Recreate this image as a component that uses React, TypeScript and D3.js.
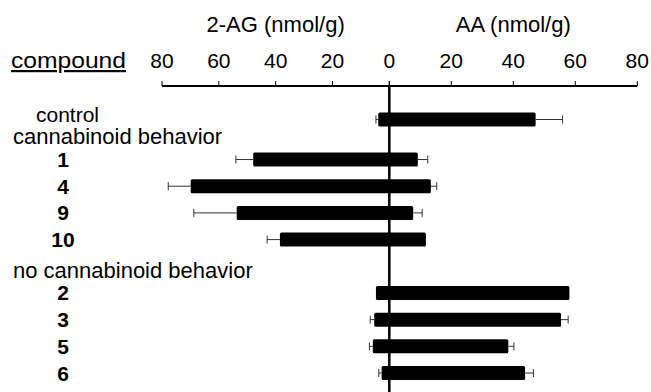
import React from "react";
import * as d3 from "d3";

// rows: control, cannabinoid behavior group, no cannabinoid behavior group
const compounds = ["control", "1", "4", "9", "10", "2", "3", "5", "6"];
const rowPos = [0, 1.5, 2.5, 3.5, 4.5, 6.5, 7.5, 8.5, 9.5];
const ag = [3.9, 47.9, 69.9, 53.7, 38.5, 4.7, 5.3, 5.8, 2.7];
const agErr = [0.8, 6.1, 7.9, 15.1, 4.5, 0, 1.4, 1.2, 1.0];
const aa = [47.2, 9.2, 13.4, 7.7, 11.8, 58.1, 55.4, 38.4, 43.8];
const aaErr = [8.7, 3.2, 1.9, 2.9, 0, 0, 2.3, 1.8, 2.7];
const groupLabels = ["cannabinoid behavior", "no cannabinoid behavior"];
const groupRows = [0.62, 5.67];
const ticks = [0, 20, 40, 60, 80];

const W = 651;
const H = 392;
const FONT = "'Liberation Sans', Arial, Helvetica, sans-serif";

export default function App() {
  const zeroX = 389.3;
  const xL = d3.scaleLinear().domain([0, 80]).range([zeroX, 162]);
  const xR = d3.scaleLinear().domain([0, 80]).range([zeroX, 637.3]);
  const y = d3.scaleLinear().domain([0, 9.5]).range([119.5, 373]);
  const axisY = 86;
  const barH = 14;
  const capH = 8;

  const errBar = (x0: number, x1: number, cy: number, key: string) => (
    <g key={key} stroke="#333" strokeWidth={1}>
      <line x1={x0} x2={x1} y1={cy} y2={cy} />
      <line x1={x1} x2={x1} y1={cy - capH / 2} y2={cy + capH / 2} />
    </g>
  );

  return (
    <svg
      width={W}
      height={H}
      style={{ position: "absolute", left: 0, top: 0, background: "#fff" }}
      fontFamily={FONT}
    >
      {/* titles */}
      <text x={xL(40)} y={32} fontSize={22} textAnchor="middle">2-AG (nmol/g)</text>
      <text x={xR(40)} y={32} fontSize={22} textAnchor="middle">AA (nmol/g)</text>
      <text
        x={11}
        y={68}
        fontSize={22}
        textLength={115}
        lengthAdjust="spacingAndGlyphs"
        textDecoration="underline"
      >
        compound
      </text>

      {/* axis */}
      <line x1={xL(80)} x2={xR(80)} y1={axisY} y2={axisY} stroke="#000" strokeWidth={2} />
      {ticks.map((t) => (
        <g key={"l" + t}>
          <line x1={xL(t)} x2={xL(t)} y1={axisY} y2={axisY - 5} stroke="#000" strokeWidth={1} />
          {t > 0 && (
            <text x={xL(t)} y={68} fontSize={21} textAnchor="middle">{t}</text>
          )}
        </g>
      ))}
      {ticks.map((t) => (
        <g key={"r" + t}>
          <line x1={xR(t)} x2={xR(t)} y1={axisY} y2={axisY - 5} stroke="#000" strokeWidth={1} />
          <text x={xR(t)} y={68} fontSize={21} textAnchor="middle">{t}</text>
        </g>
      ))}

      {/* error bars */}
      {compounds.map((c, i) => {
        const cy = y(rowPos[i]);
        return (
          <g key={"e" + c}>
            {agErr[i] > 0 && errBar(xL(ag[i]), xL(ag[i] + agErr[i]), cy, "a")}
            {aaErr[i] > 0 && errBar(xR(aa[i]), xR(aa[i] + aaErr[i]), cy, "b")}
          </g>
        );
      })}

      {/* bars */}
      {compounds.map((c, i) => {
        const cy = y(rowPos[i]);
        return (
          <rect
            key={"b" + c}
            x={xL(ag[i])}
            y={cy - barH / 2}
            width={xR(aa[i]) - xL(ag[i])}
            height={barH}
            fill="#000"
            rx={1.5}
          />
        );
      })}

      {/* zero line */}
      <line x1={zeroX} x2={zeroX} y1={axisY} y2={H} stroke="#000" strokeWidth={2.5} />

      {/* row labels */}
      {compounds.map((c, i) =>
        c === "control" ? (
          <text key={"t" + c} x={36} y={y(rowPos[i]) + 2.5} fontSize={21}>{c}</text>
        ) : (
          <text
            key={"t" + c}
            x={63}
            y={y(rowPos[i]) + 7.5}
            fontSize={21}
            fontWeight="bold"
            textAnchor="middle"
          >
            {c}
          </text>
        )
      )}
      {groupLabels.map((g, i) => (
        <text key={g} x={13} y={y(groupRows[i]) + 7.5} fontSize={22}>{g}</text>
      ))}
    </svg>
  );
}
